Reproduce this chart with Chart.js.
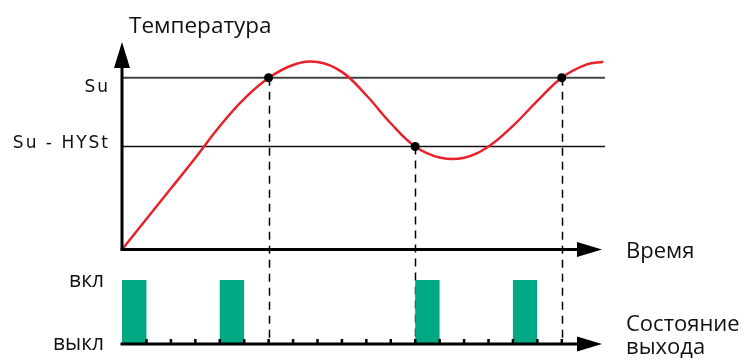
<!DOCTYPE html>
<html>
<head>
<meta charset="utf-8">
<script src="https://cdn.jsdelivr.net/npm/chart.js@4"></script>
<style>
html,body{margin:0;padding:0;background:#fff}
#wrap{width:748px;height:360px}
</style>
</head>
<body>
<div id="wrap"><canvas id="myChart"></canvas></div>
<script>
// кривая температуры: время (в делениях) и температура (% от Su)
const tempX=[0,1,2,3,4,5,6,7,8,9,10,11,12,13,14,15,16,17,18,19,19.7]
const tempY=[0,17.8,35.5,53.3,71.8,87.7,99.8,107.4,109.2,103.4,89.8,73.5,60,53.6,53.4,60,72,86.5,100,107.6,109.3]
// точки переключения
const checkX=[6,12,18]
const checkY=[100,60,100]
// уровни
const su=100
const suHyst=60
// состояние выхода (1 = вкл, 0 = выкл)
const outX=[0,1,4,5,12,13,16,17]
const outY=[1,0,1,0,1,0,1,0]
const tickX=[1,2,3,4,5,6,7,8,9,10,11,12,13,14,15,16,17,18]

const arrow=(ctx,x,y,dir)=>{
  ctx.beginPath()
  if(dir=="up"){
    ctx.moveTo(x,y);ctx.lineTo(x-8,y+26);ctx.lineTo(x+8,y+26)
  }else{
    ctx.moveTo(x,y);ctx.lineTo(x-25,y-7.5);ctx.lineTo(x-25,y+7.5)
  }
  ctx.closePath()
  ctx.fill()
}

const diagram={
  id:"diagram",
  beforeDatasetsDraw(chart){
    const ctx=chart.ctx, sx=chart.scales.x, sy=chart.scales.y, so=chart.scales.yOut
    const x0=sx.getPixelForValue(0), xr=chart.chartArea.right
    ctx.save()
    ctx.lineWidth=2
    ctx.strokeStyle="#444"
    ctx.beginPath();ctx.moveTo(x0,sy.getPixelForValue(su));ctx.lineTo(xr,sy.getPixelForValue(su));ctx.stroke()
    ctx.strokeStyle="#111"
    ctx.lineWidth=1.6
    ctx.beginPath();ctx.moveTo(x0,sy.getPixelForValue(suHyst));ctx.lineTo(xr,sy.getPixelForValue(suHyst));ctx.stroke()
    ctx.setLineDash([8,6])
    ctx.lineWidth=1.5
    ctx.strokeStyle="#000"
    checkX.forEach((cx,i)=>{
      const px=Math.round(sx.getPixelForValue(cx))+0.5
      ctx.beginPath();ctx.moveTo(px,sy.getPixelForValue(checkY[i]));ctx.lineTo(px,so.getPixelForValue(0));ctx.stroke()
    })
    ctx.restore()
  },
  afterDatasetsDraw(chart){
    const ctx=chart.ctx, sx=chart.scales.x, sy=chart.scales.y, so=chart.scales.yOut
    const a=chart.chartArea
    const x0=sx.getPixelForValue(0)
    const yT=sy.getPixelForValue(0), yO=so.getPixelForValue(0)
    const tip=a.right-3
    ctx.save()
    ctx.fillStyle="#000"
    ctx.strokeStyle="#000"
    ctx.lineWidth=3
    ctx.beginPath();ctx.moveTo(x0,yT);ctx.lineTo(x0,a.top+20);ctx.stroke()
    arrow(ctx,x0,a.top,"up")
    ctx.beginPath();ctx.moveTo(x0-1.5,yT);ctx.lineTo(tip-20,yT);ctx.stroke()
    arrow(ctx,tip,yT,"right")
    ctx.beginPath();ctx.moveTo(x0-1.5,yO);ctx.lineTo(tip-20,yO);ctx.stroke()
    arrow(ctx,tip,yO,"right")
    tickX.forEach(t=>{
      const px=sx.getPixelForValue(t)
      ctx.fillRect(px-1.2,yO-5,2.5,5)
    })

    ctx.fillStyle="#111"
    ctx.textBaseline="alphabetic"
    ctx.font="22.5px 'Open Sans'"
    ctx.textAlign="left"
    ctx.fillText("Температура",129,33)
    ctx.font="22px 'Open Sans'"
    ctx.fillText("Время",626,258)
    ctx.fillText("Состояние",626,331)
    ctx.fillText("выхода",626,354)
    ctx.textAlign="right"
    ctx.font="21px 'Open Sans'"
    ctx.fillText("вкл",104,287)
    ctx.fillText("выкл",104,350)
    ctx.font="17px 'DejaVu Sans'"
    ctx.letterSpacing="2px"
    ctx.fillText("Su",110,92)
    ctx.fillText("Su - HYSt",110,148)
    ctx.restore()
  }
}

const ctx=document.getElementById("myChart")
new Chart(ctx,{
  type:"line",
  data:{
    datasets:[
      {
        label:"точки",
        data:checkX.map((x,i)=>({x:x,y:checkY[i]})),
        showLine:false,
        pointRadius:4.5,
        pointBackgroundColor:"#000",
        pointBorderWidth:0,
        order:0,
        clip:false
      },
      {
        label:"Температура",
        data:tempX.map((x,i)=>({x:x,y:tempY[i]})),
        borderColor:"#e8212b",
        borderWidth:2.5,
        pointRadius:0,
        tension:0.4,
        order:1,
        clip:false
      },
      {
        label:"Состояние выхода",
        data:outX.map((x,i)=>({x:x,y:outY[i]})),
        yAxisID:"yOut",
        stepped:"before",
        fill:"origin",
        backgroundColor:"#00a884",
        borderWidth:0,
        pointRadius:0,
        order:2
      }
    ]
  },
  options:{
    responsive:true,
    maintainAspectRatio:false,
    animation:false,
    layout:{padding:{left:122,right:143,top:42,bottom:16}},
    plugins:{legend:{display:false},tooltip:{enabled:false}},
    scales:{
      x:{type:"linear",min:0,max:19.77,display:false},
      y:{min:-55,max:120.8,display:false},
      yOut:{min:0,max:4.72,display:false}
    }
  },
  plugins:[diagram]
})
</script>
</body>
</html>
